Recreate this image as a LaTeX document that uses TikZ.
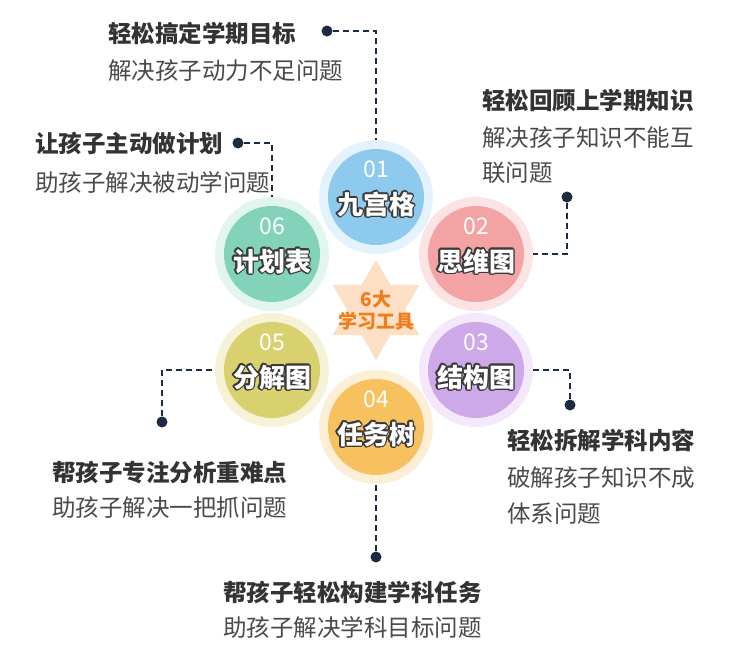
\documentclass[tikz,border=0pt]{standalone}
\usepackage{fontspec}
\setmainfont{Noto Sans CJK SC}
\usepackage{contour}
\contourlength{1.4pt}
\usetikzlibrary{shapes.geometric}

\definecolor{wirec}{HTML}{1B2B40}
\definecolor{headc}{HTML}{333333}
\definecolor{bodyc}{HTML}{4A4A4A}
\definecolor{outc}{HTML}{3A3A3A}
\definecolor{starc}{HTML}{FDDFC6}
\definecolor{orangec}{HTML}{F07D1A}
\definecolor{d01}{HTML}{8EC9EE}\definecolor{l01}{HTML}{E3F2FC}
\definecolor{d02}{HTML}{F4A3A4}\definecolor{l02}{HTML}{FCE4E4}
\definecolor{d03}{HTML}{CDA9EA}\definecolor{l03}{HTML}{F3E9FB}
\definecolor{d04}{HTML}{F7C160}\definecolor{l04}{HTML}{FDEFD6}
\definecolor{d05}{HTML}{D9D170}\definecolor{l05}{HTML}{F5F2D8}
\definecolor{d06}{HTML}{83D3BA}\definecolor{l06}{HTML}{E2F5EF}

\tikzset{
	halo/.style={circle, minimum size=114pt, inner sep=0pt},
	disc/.style={circle, minimum size=96pt, inner sep=0pt},
	num/.style={text=white, font=\fontsize{23}{23}\selectfont},
	tool/.style={text=white, font=\fontsize{26}{26}\selectfont\bfseries},
	head/.style={anchor=base west, inner sep=0pt, text=headc, font=\fontsize{23.5}{23.5}\selectfont\bfseries},
	body/.style={anchor=base west, inner sep=0pt, text=bodyc, font=\fontsize{23.5}{23.5}\selectfont},
	wire/.style={draw=wirec, line width=1.8pt, dash pattern=on 6pt off 4pt},
	pin/.style={circle, fill=wirec, minimum size=11pt, inner sep=0pt},
}

\begin{document}
\begin{tikzpicture}[x=1pt, y=-1pt]
	\useasboundingbox[fill=white] (0,0) rectangle (750,667);
	% Star and tools:
	\node[star, star points=6, star point ratio=1.73, minimum size=100pt, inner sep=0pt, fill=starc](S) at (376,310){};
	\node[align=center, text=orangec, font=\fontsize{19}{22}\selectfont\bfseries] at (S){6大\\学习工具};
	\foreach \n/\x/\y/\txt in {01/376/197/九宫格, 02/476/254/思维图, 03/476/370/结构图, 04/376/427/任务树, 05/272/370/分解图, 06/272/254/计划表}{
		\node[halo, fill=l\n](h\n) at (\x,\y){};
		\node[disc, fill=d\n](c\n) at (\x,\y){};
		\node[num] at (\x,\y-28){\n};
		\node[tool] at (\x,\y+8){\contour{outc}{\txt}};
	}
	% Pins and wires:
	\node[pin](p01) at (327,31){};
	\node[pin](p02) at (567,197){};
	\node[pin](p03) at (570,405){};
	\node[pin](p04) at (376,557){};
	\node[pin](p05) at (162,422){};
	\node[pin](p06) at (238,143){};
	\draw[wire] (p01) -| (h01.north);
	\draw[wire] (p02) |- (h02.east);
	\draw[wire] (p03) |- (h03.east);
	\draw[wire] (p04) -- (h04.south);
	\draw[wire] (p05) |- (h05.west);
	\draw[wire] (p06) -| (h06.north);
	% Texts:
	\node[head](t01) at (108,42){轻松搞定学期目标};
	\node[body](s01) at (108,79){解决孩子动力不足问题};
	\node[head](t02) at (482,109){轻松回顾上学期知识};
	\node[body](s02) at (482,146){解决孩子知识不能互};
	\node[body](r02) at (482,181){联问题};
	\node[head](t03) at (507,449){轻松拆解学科内容};
	\node[body](s03) at (507,486){破解孩子知识不成};
	\node[body](r03) at (507,522){体系问题};
	\node[head](t04) at (223,601){帮孩子轻松构建学科任务};
	\node[body](s04) at (223,636){助孩子解决学科目标问题};
	\node[head](t05) at (52,481){帮孩子专注分析重难点};
	\node[body](s05) at (52,516){助孩子解决一把抓问题};
	\node[head](t06) at (35,152){让孩子主动做计划};
	\node[body](s06) at (35,191){助孩子解决被动学问题};
\end{tikzpicture}
\end{document}
